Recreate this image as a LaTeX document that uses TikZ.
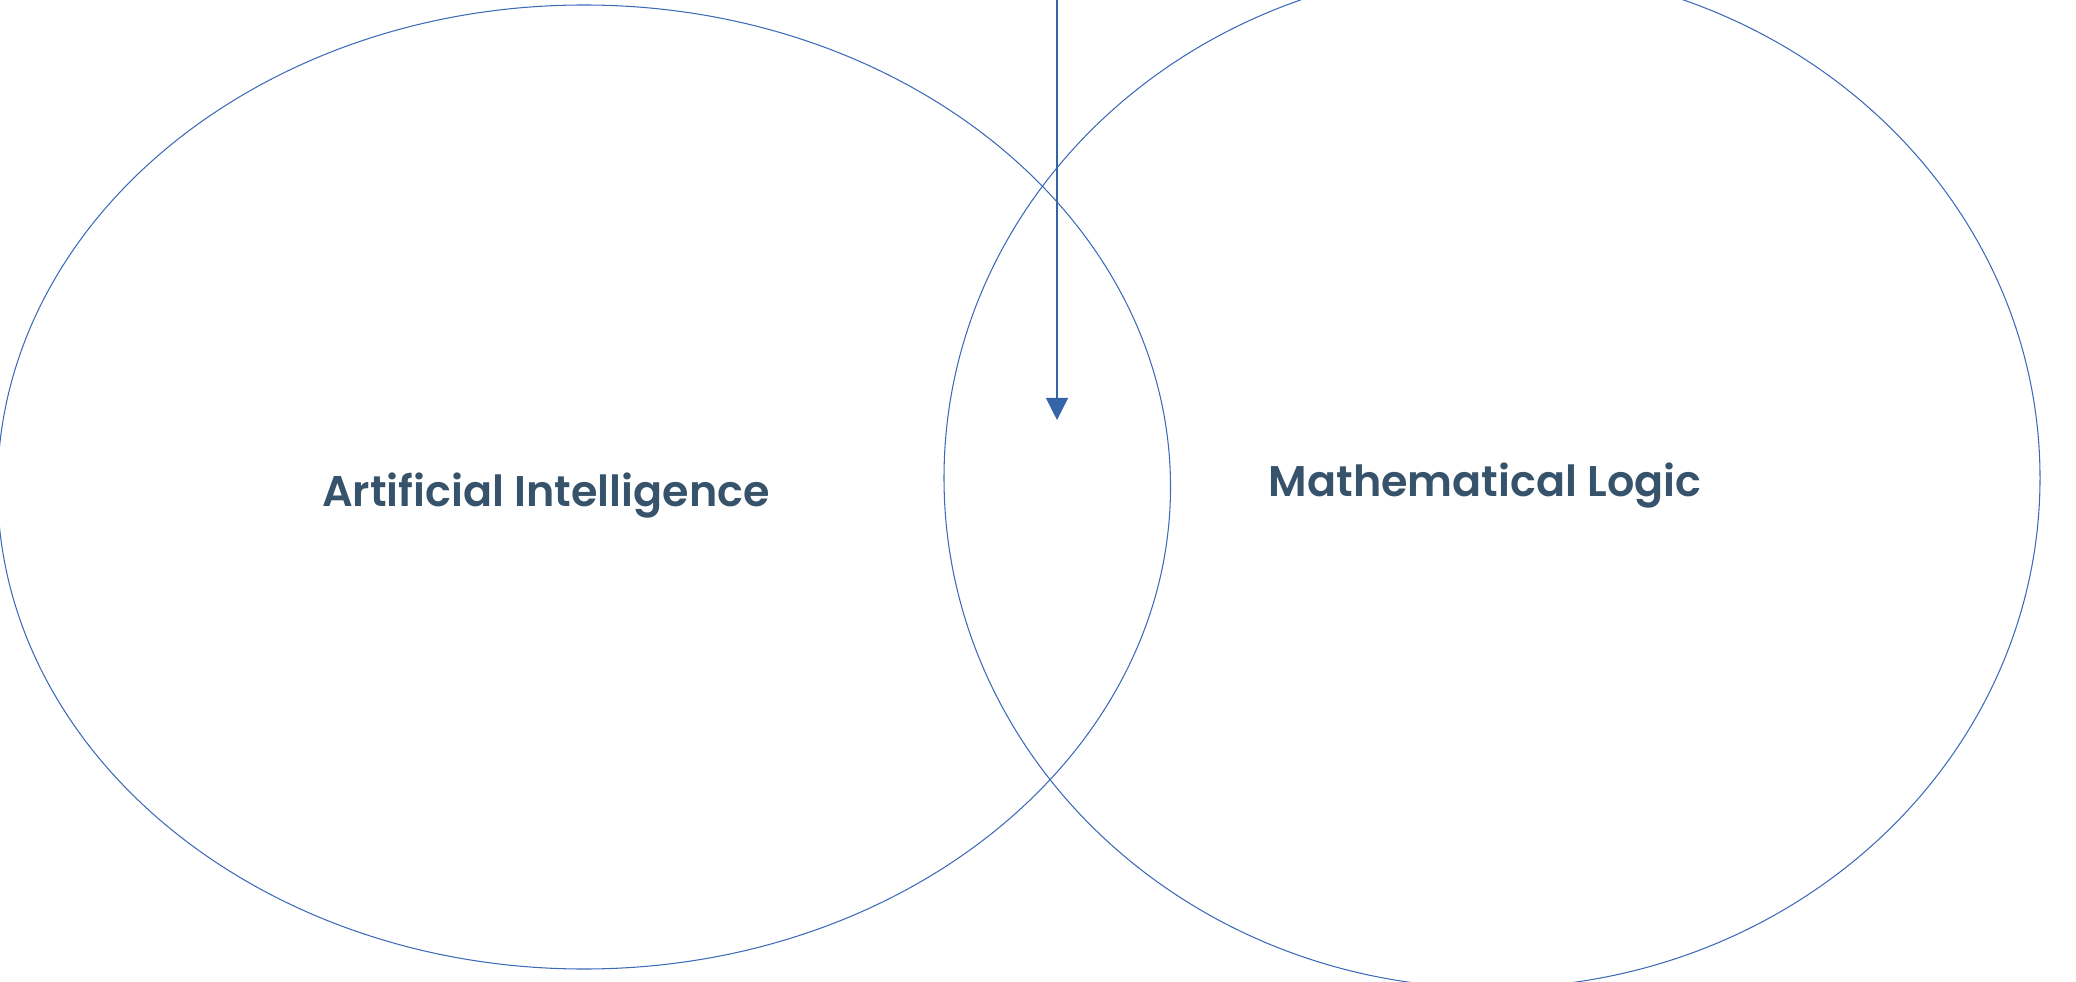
\documentclass[tikz,border=0pt]{standalone}
\usepackage{fontspec}
\setmainfont{Poppins}[BoldFont={* SemiBold}]
\usetikzlibrary{shapes.geometric,arrows.meta}

\definecolor{vennline}{RGB}{61,106,184}
\definecolor{arrowblue}{RGB}{52,101,168}
\definecolor{labeltext}{RGB}{55,83,107}

\begin{document}
\begin{tikzpicture}[
    venn/.style={ellipse, draw=vennline, line width=0.3pt, inner sep=0pt},
    arr/.style={-{Triangle[width=2.2mm,length=2.2mm]}, draw=arrowblue, fill=arrowblue, line width=0.35pt},
    lbl/.style={font=\fontsize{12.2}{15}\selectfont\bfseries, text=labeltext, anchor=base},
  ]

  \useasboundingbox (0,0) rectangle (20.76,9.81);
  \clip (0,0) rectangle (20.76,9.81);

  % Left set: AI
  \node[venn, minimum width=11.73cm, minimum height=9.64cm] (ai) at (5.84,4.94) {};
  \node[lbl] (ailbl) at (5.46,4.75) {Artificial Intelligence};

  % Right set: logic
  \node[venn, minimum width=10.96cm, minimum height=10.2cm] (ml) at (14.92,5.03) {};
  \node[lbl] (mllbl) at (14.85,4.85) {Mathematical Logic};

  % Arrow into the overlap
  \coordinate (src) at (10.57,9.81);
  \coordinate (tip) at (10.57,5.61);
  \draw[arr] (src) -- (tip);

\end{tikzpicture}
\end{document}
